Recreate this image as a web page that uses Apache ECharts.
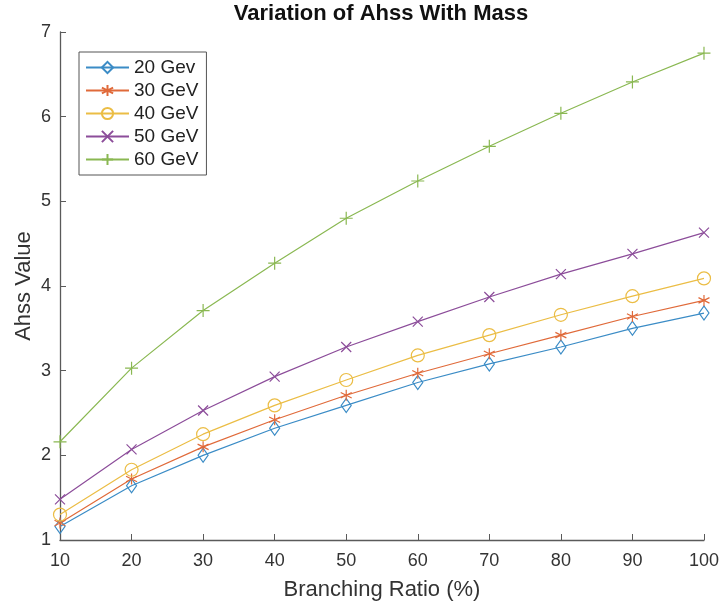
<!DOCTYPE html>
<html>
<head>
<meta charset="utf-8">
<script src="https://cdn.jsdelivr.net/npm/echarts@6/dist/echarts.min.js"></script>
<style>
  html, body { margin: 0; padding: 0; background: #fff; }
  #chart { width: 722px; height: 609px; }
</style>
</head>
<body>
<div id="chart"></div>
<script>
// Branching ratio (%) on the x axis
const branchingRatio = [10, 20, 30, 40, 50, 60, 70, 80, 90, 100];

// Ahss value for each mass
const mass20 = [1.16, 1.64, 2.00, 2.32, 2.59, 2.86, 3.08, 3.28, 3.50, 3.68];
const mass30 = [1.20, 1.72, 2.10, 2.42, 2.71, 2.97, 3.20, 3.42, 3.64, 3.83];
const mass40 = [1.30, 1.83, 2.25, 2.59, 2.89, 3.18, 3.42, 3.66, 3.88, 4.09];
const mass50 = [1.48, 2.07, 2.53, 2.93, 3.28, 3.58, 3.87, 4.14, 4.38, 4.63];
const mass60 = [2.16, 3.03, 3.71, 4.27, 4.80, 5.24, 5.65, 6.04, 6.41, 6.75];

const seriesNames = ['20 Gev', '30 GeV', '40 GeV', '50 GeV', '60 GeV'];
const seriesValues = [mass20, mass30, mass40, mass50, mass60];

const colors = ['#3b8cc6', '#e06a3a', '#ebbd45', '#8c4d9a', '#8ab852'];
const markers = [
  'diamond',
  'path://M0,-10L0,10M-8.66,-5L8.66,5M-8.66,5L8.66,-5',
  'circle',
  'path://M-1,-1L1,1M-1,1L1,-1',
  'path://M0,-1L0,1M-1,0L1,0'
];
const markerSizes = [[10, 14], 11, 13, 10, 13];

const FONT = 'Liberation Sans, Arial, Helvetica, sans-serif';

const chart = echarts.init(document.getElementById('chart'), null, { renderer: 'canvas' });

const series = seriesNames.map((name, i) => ({
  name: name,
  type: 'line',
  data: branchingRatio.map((x, j) => [x, seriesValues[i][j]]),
  symbol: markers[i],
  symbolSize: markerSizes[i],
  showAllSymbol: true,
  color: colors[i],
  lineStyle: { color: colors[i], width: 1.2 },
  itemStyle: { color: 'transparent', borderColor: colors[i], borderWidth: 1.2 },
  emphasis: { disabled: true },
  animation: false
}));

chart.setOption({
  backgroundColor: '#fff',
  animation: false,
  title: {
    text: 'Variation of Ahss With Mass',
    left: 381,
    textAlign: 'center',
    top: 3,
    padding: 0,
    textStyle: { fontFamily: FONT, fontSize: 22, fontWeight: 'bold', color: '#111' }
  },
  legend: {
    orient: 'vertical',
    left: 79,
    top: 52,
    padding: [6, 8, 6, 6],
    itemWidth: 43,
    itemHeight: 14,
    itemGap: 4,
    borderColor: '#555',
    borderWidth: 1,
    backgroundColor: '#fff',
    textStyle: { fontFamily: FONT, fontSize: 19, color: '#222' },
    data: seriesNames
  },
  grid: { left: 60, right: 17, top: 32, bottom: 69, containLabel: false },
  xAxis: {
    type: 'value',
    min: 10,
    max: 100,
    interval: 10,
    name: 'Branching Ratio (%)',
    nameLocation: 'middle',
    nameGap: 39,
    nameMoveOverlap: false,
    nameTextStyle: { fontFamily: FONT, fontSize: 22, color: '#333' },
    axisLine: { lineStyle: { color: '#5a5a5a', width: 1.3 } },
    axisTick: { inside: true, length: 6, lineStyle: { color: '#5a5a5a' } },
    axisLabel: { fontFamily: FONT, fontSize: 18, color: '#333', margin: 12 },
    splitLine: { show: false }
  },
  yAxis: {
    type: 'value',
    min: 1,
    max: 7,
    interval: 1,
    name: 'Ahss Value',
    nameLocation: 'middle',
    nameGap: 25,
    nameMoveOverlap: false,
    nameTextStyle: { fontFamily: FONT, fontSize: 22, color: '#333' },
    axisLine: { show: true, lineStyle: { color: '#5a5a5a', width: 1.3 } },
    axisTick: { show: true, inside: true, length: 6, lineStyle: { color: '#5a5a5a' } },
    axisLabel: { fontFamily: FONT, fontSize: 18, color: '#333', margin: 9 },
    splitLine: { show: false }
  },
  series: series
});
</script>
</body>
</html>
